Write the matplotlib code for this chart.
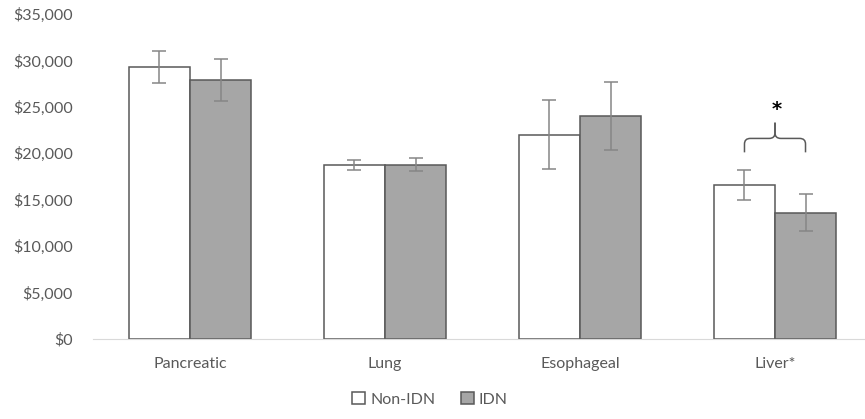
import numpy as np
import matplotlib.pyplot as plt
from matplotlib.path import Path
from matplotlib.patches import PathPatch
from matplotlib.ticker import FuncFormatter

plt.rcParams['font.family'] = ['Lato', 'DejaVu Sans']

categories = ['Pancreatic', 'Lung', 'Esophageal', 'Liver*']
non_idn = [29300, 18750, 22000, 16600]
non_idn_err = [1700, 500, 3700, 1650]
idn = [27900, 18750, 24000, 13600]
idn_err = [2300, 700, 3650, 2000]

fig = plt.figure(figsize=(8.65, 4.19), dpi=100)
ax = fig.add_axes([92.5 / 865, 80 / 419, 780 / 865, 325 / 419])

x = np.arange(len(categories))
w = 0.313
edge = '#595959'
ecol = '#868686'
ax.bar(x - w / 2, non_idn, w, color='white', edgecolor=edge, linewidth=1.1, label='Non-IDN')
ax.bar(x + w / 2, idn, w, color='#a6a6a6', edgecolor=edge, linewidth=1.1, label='IDN')
ax.errorbar(x - w / 2, non_idn, yerr=non_idn_err, fmt='none', ecolor=ecol, elinewidth=1.1, capsize=5, capthick=1.1)
ax.errorbar(x + w / 2, idn, yerr=idn_err, fmt='none', ecolor=ecol, elinewidth=1.1, capsize=5, capthick=1.1)

# curly bracket over liver bars
x0, x1 = x[3] - w / 2, x[3] + w / 2
xm = (x0 + x1) / 2
yb, yh, yp = 20100, 21600, 23300
r = 0.03
c = 600
verts = [(x0, yb), (x0, yh - c), (x0, yh), (x0 + r, yh),
         (xm - r, yh), (xm, yh), (xm, yh + c), (xm, yp)]
codes = [Path.MOVETO, Path.LINETO, Path.CURVE3, Path.CURVE3,
         Path.LINETO, Path.CURVE3, Path.CURVE3, Path.LINETO]
ax.add_patch(PathPatch(Path(verts, codes), fill=False, edgecolor=edge, lw=1.1))
verts2 = [(x1, yb), (x1, yh - c), (x1, yh), (x1 - r, yh),
          (xm + r, yh), (xm, yh), (xm, yh + c), (xm, yp)]
ax.add_patch(PathPatch(Path(verts2, codes), fill=False, edgecolor=edge, lw=1.1))
ax.text(xm + 0.01, 24700, '*', ha='center', va='center', fontsize=14, fontweight='bold',
        color='black', family='DejaVu Sans')

ax.set_xlim(-0.5, 3.5)
ax.set_ylim(0, 35000)
ax.set_yticks(np.arange(0, 35001, 5000))
ax.yaxis.set_major_formatter(FuncFormatter(lambda v, p: '${:,.0f}'.format(v)))
ax.set_xticks(x)
ax.set_xticklabels(categories)
ax.tick_params(axis='both', length=0, labelsize=11.5, colors='#595959')
ax.tick_params(axis='y', pad=14)
ax.tick_params(axis='x', pad=13)
for s in ['top', 'right', 'left']:
    ax.spines[s].set_visible(False)
ax.spines['bottom'].set_color('#d9d9d9')

fig.legend(loc='lower center', bbox_to_anchor=(0.497, -0.005), ncol=2, frameon=False,
           fontsize=11.5, handlelength=0.8, handleheight=0.8, columnspacing=1.6,
           handletextpad=0.3, labelcolor='#595959')

fig.savefig('out.png', dpi=100)
